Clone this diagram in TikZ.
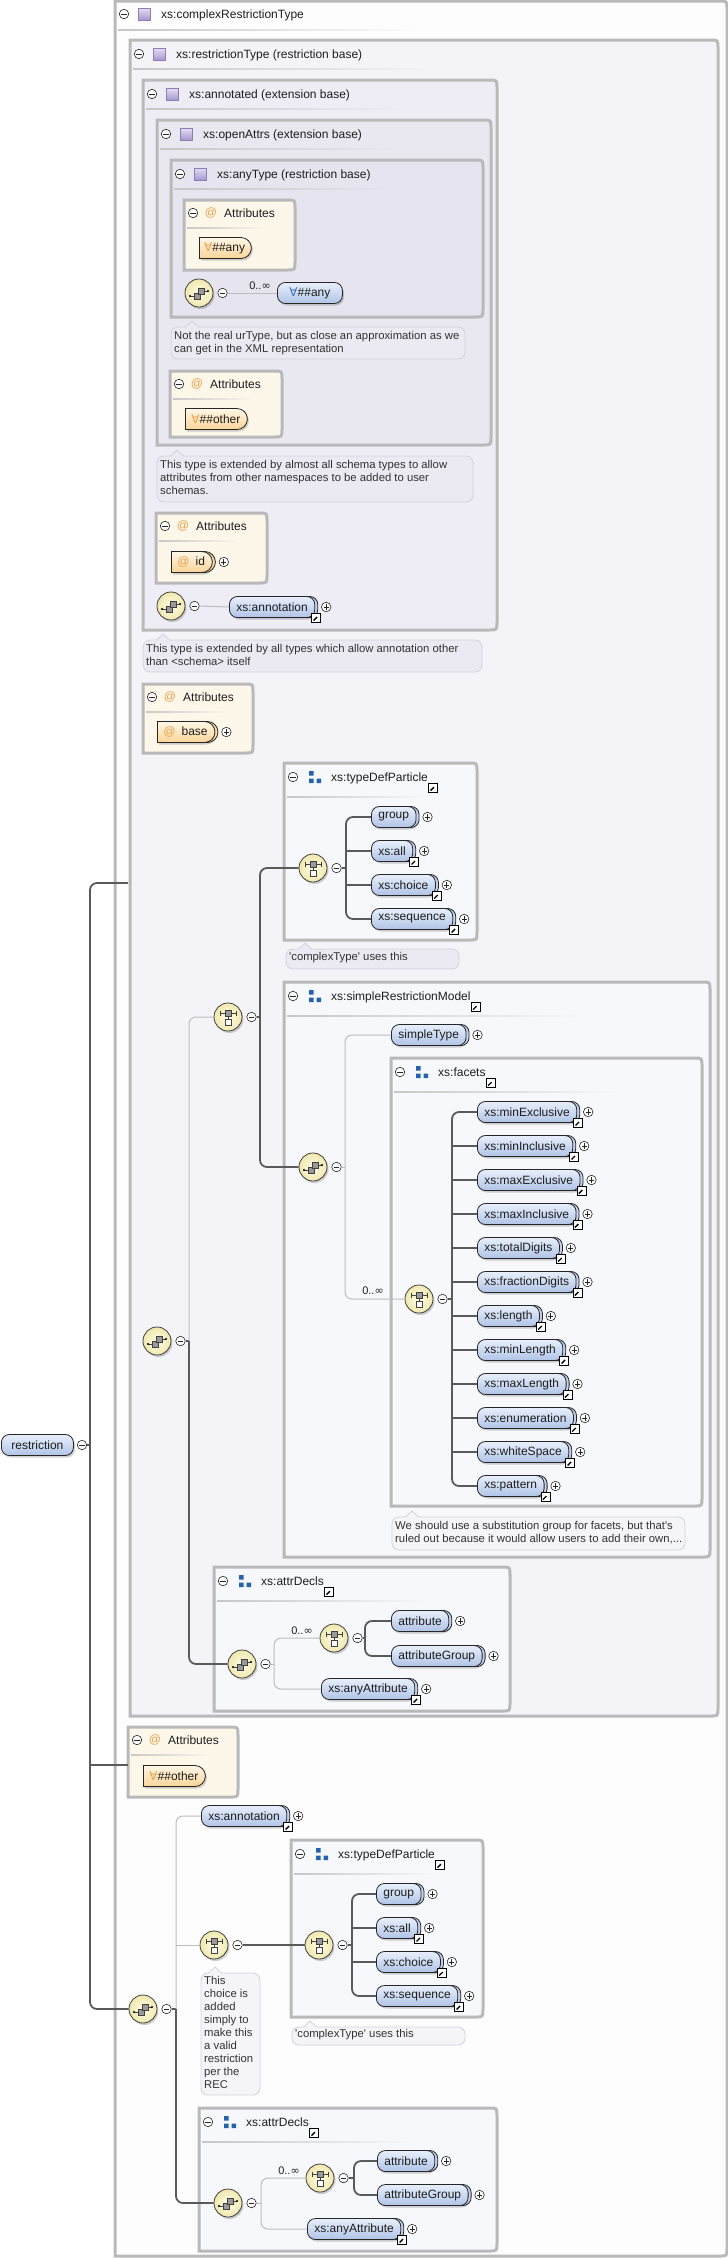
\documentclass[tikz,border=0pt]{standalone}
\usepackage{fontspec}
\setmainfont{Liberation Sans}
\newfontfamily\djv{DejaVu Sans}
\usetikzlibrary{shapes.misc,shadows}

\definecolor{boxgray}{HTML}{B9B9B9}
\definecolor{outerfill}{HTML}{FDFDFE}
\definecolor{rtfill}{HTML}{F4F3F8}
\definecolor{annfill}{HTML}{EEECF4}
\definecolor{oafill}{HTML}{E9E7F0}
\definecolor{atfill}{HTML}{E6E4EE}
\definecolor{grpfill}{HTML}{F7F8FC}
\definecolor{attfill}{HTML}{FDF7EA}
\definecolor{eltop}{HTML}{E8EFFB}
\definecolor{elbot}{HTML}{B0C4E6}
\definecolor{attop}{HTML}{FFF7E8}
\definecolor{atbot}{HTML}{FAD497}
\definecolor{orangeat}{HTML}{E9A04A}
\definecolor{wildblue}{HTML}{3C6FC0}
\definecolor{grpblue}{HTML}{2462B0}
\definecolor{notefill}{HTML}{EBE9F1}
\definecolor{notewhite}{HTML}{F5F5F7}
\definecolor{noteline}{HTML}{D3D1DB}
\definecolor{connc}{HTML}{5A5A5A}
\definecolor{optc}{HTML}{BDBDBD}
\definecolor{compin}{HTML}{FFFCE6}
\definecolor{compout}{HTML}{F0E8AE}
\definecolor{ctA}{HTML}{E4DEF2}
\definecolor{ctB}{HTML}{A597CF}
\definecolor{ctline}{HTML}{8C7FB6}
\definecolor{txt}{HTML}{1E1E1E}

\tikzset{
 boxline/.style={draw=boxgray, line width=3pt},
 shad/.style={drop shadow={shadow xshift=1.5pt, shadow yshift=-2pt, opacity=0.3, fill=black!60}},
 elem/.style={draw=black!85, line width=0.8pt, rounded corners=8pt, top color=eltop, bottom color=elbot,
   minimum height=21pt, inner xsep=7pt, inner ysep=0pt, font=\fontsize{12}{14}\selectfont, text=txt, shad},
 kids/.style={general shadow={shadow xshift=3pt, shadow yshift=0pt, fill=elbot!70!eltop, draw=black!85, line width=0.8pt}},
 attr/.style={rounded rectangle, rounded rectangle west arc=none, draw=black!85, line width=0.8pt,
   top color=attop, bottom color=atbot, minimum height=21pt, inner xsep=6pt, inner ysep=0pt,
   font=\fontsize{12}{14}\selectfont, text=txt, shad},
 akids/.style={general shadow={shadow xshift=3pt, shadow yshift=0pt, fill=atbot!80!attop, draw=black!85, line width=0.8pt}},
 comp/.style={circle, draw=black!75, line width=0.8pt, minimum size=28pt, inner sep=0pt,
   inner color=compin, outer color=compout, shad},
 seqc/.style={comp, path picture={\begin{scope}[shift={(path picture bounding box.center)}]
   \draw[line width=0.7pt] (-9,3) -- (-5,3) (5,-2) -- (9,-2);
   \fill (-9,3) circle (1.2) (9,-2) circle (1.2);
   \draw[fill=black!40, line width=0.6pt] (-5,0) rectangle (1,6);
   \draw[fill=black!40, line width=0.6pt] (-1,-5) rectangle (5,1);
   \end{scope}}},
 chc/.style={comp, path picture={\begin{scope}[shift={(path picture bounding box.center)}]
   \draw[line width=0.7pt] (-8,-4) -- (8,-4) (-8,-6.5) -- (-8,-1.5) (8,-6.5) -- (8,-1.5) (0,-1) -- (0,2);
   \draw[fill=black!40, line width=0.6pt] (-3,-7) rectangle (3,-1);
   \draw[fill=white, line width=0.6pt] (-3,2) rectangle (3,8);
   \end{scope}}},
 pm/.style={circle, draw=black!85, fill=white, line width=0.6pt, minimum size=9.5pt, inner sep=0pt},
 pmm/.style={pm, path picture={\draw[line width=0.7pt] ([xshift=-2.6pt]path picture bounding box.center) -- ([xshift=2.6pt]path picture bounding box.center);}},
 pmp/.style={pm, path picture={\draw[line width=0.7pt] ([xshift=-2.6pt]path picture bounding box.center) -- ([xshift=2.6pt]path picture bounding box.center) ([yshift=-2.6pt]path picture bounding box.center) -- ([yshift=2.6pt]path picture bounding box.center);}},
 link/.style={rectangle, draw=black, fill=white, line width=0.7pt, minimum size=9pt, inner sep=0pt,
   path picture={\begin{scope}[shift={(path picture bounding box.center)}]
   \draw[line width=1.3pt] (-2.6,2.6) -- (1,-1);
   \fill (2.9,-2.9) -- (-0.8,-2.9) -- (2.9,0.8) -- cycle;
   \end{scope}}},
 cticon/.style={rectangle, draw=ctline, line width=0.6pt, top color=ctA, bottom color=ctB, minimum size=12pt, inner sep=0pt},
 grpicon/.style={rectangle, minimum size=13pt, inner sep=0pt, path picture={\begin{scope}[shift={(path picture bounding box.center)}]
   \fill[grpblue] (-6,-6) rectangle (-1.5,-1.5) (-6,1.5) rectangle (-1.5,6) (1.5,1.5) rectangle (6,6);
   \end{scope}}},
 htext/.style={anchor=base west, inner sep=0pt, font=\fontsize{12}{14}\selectfont, text=txt},
 atsign/.style={inner sep=0pt, font=\fontsize{12}{14}\selectfont, text=orangeat},
 ntext/.style={anchor=north west, inner sep=0pt, align=left, font=\fontsize{11.3}{13}\selectfont, text=black!80},
 card/.style={inner sep=0pt, font=\fontsize{11}{13}\selectfont, text=txt},
 conn/.style={draw=connc, line width=1.8pt, rounded corners=7pt},
 opt/.style={draw=optc, line width=1pt, rounded corners=7pt},
}

\newcommand\boxshape[5]{\path[#5] (#1,#2) -- ({#3-8},#2) .. controls (#3,#2) .. (#3,{#2+8}) -- (#3,{#4-8}) .. controls (#3,#4) .. ({#3-8},#4) -- (#1,#4) -- cycle;}
\newcommand\sepline[5]{\shade[left color=black!22, right color=#5] ({#1+3},{#2+#4}) rectangle ({#1+3+min(0.72*(#3-#1),300)},{#2+#4+1.6});}
\newcommand\cttitle[4]{%
 \node[pmm] (#1-m) at ({#2+9},{#3+14}) {};
 \node[cticon] (#1-i) at ({#2+29},{#3+14}) {};
 \node[htext] (#1-t) at ({#2+46},{#3+18}) {#4};}
\newcommand\grtitle[4]{%
 \node[pmm] (#1-m) at ({#2+9},{#3+14}) {};
 \node[grpicon] (#1-i) at ({#2+31},{#3+14}) {};
 \node[htext] (#1-t) at ({#2+47},{#3+18}) {#4};
 \node[link] (#1-k) at ([shift={(5,7)}]#1-t.base east) {};}
\newcommand\attitle[3]{%
 \node[pmm] (#1-m) at ({#2+9},{#3+13}) {};
 \node[atsign] (#1-a) at ({#2+27},{#3+13}) {@};
 \node[htext] (#1-t) at ({#2+40},{#3+17}) {Attributes};}
\newcommand\notebox[6]{%
 \path[fill=#6, draw=noteline, line width=0.8pt, rounded corners=7pt] (#1,#2) rectangle (#3,#4);
 \fill[#6] ({#5-6.5},{#2+0.8}) -- (#5,{#2-6}) -- ({#5+6.5},{#2+0.8}) -- cycle;
 \draw[noteline, line width=0.8pt] ({#5-6.5},#2) -- (#5,{#2-6}) -- ({#5+6.5},#2);}
\newcommand\elk[4]{%
 \node[elem,kids,anchor=west] (#1) at (#2,{#3}) {#4};
 \node[pmp] (#1-p) at ([xshift=11pt]#1.east) {};
 \node[link] (#1-k) at ([xshift=1pt]#1.south east) {};}
\newcommand\elp[4]{%
 \node[elem,kids,anchor=west] (#1) at (#2,{#3}) {#4};
 \node[pmp] (#1-p) at ([xshift=11pt]#1.east) {};}
\newcommand\seqn[3]{\node[seqc] (#1) at (#2,#3) {}; \node[pmm] (#1-m) at ({#2+23.5},#3) {};}
\newcommand\chn[3]{\node[chc] (#1) at (#2,#3) {}; \node[pmm] (#1-m) at ({#2+23.5},#3) {};}

\begin{document}
\begin{tikzpicture}[x=1pt,y=-1pt]
\useasboundingbox (0,0) rectangle (728,2259);
\fill[white] (0,0) rectangle (728,2259);

% ---------- containers ----------
\boxshape{115}{1}{727}{2256}{boxline,fill=outerfill}
\sepline{115}{1}{727}{28}{outerfill}
\cttitle{cr}{115}{0}{xs:complexRestrictionType}

\boxshape{130}{40}{718}{1716}{boxline,fill=rtfill}
\sepline{130}{40}{718}{28}{rtfill}
\cttitle{rt}{130}{40}{xs:restrictionType (restriction base)}

\boxshape{143}{80}{497}{630}{boxline,fill=annfill}
\sepline{143}{80}{497}{28}{annfill}
\cttitle{an}{143}{80}{xs:annotated (extension base)}

\boxshape{157}{120}{491}{445}{boxline,fill=oafill}
\sepline{157}{120}{491}{28}{oafill}
\cttitle{oa}{157}{120}{xs:openAttrs (extension base)}

\boxshape{171}{160}{483}{317}{boxline,fill=atfill}
\sepline{171}{160}{483}{28}{atfill}
\cttitle{ay}{171}{160}{xs:anyType (restriction base)}

% Attributes boxes
\boxshape{184}{200}{295}{270}{boxline,fill=attfill}
\sepline{184}{200}{295}{27}{attfill}
\attitle{A1}{184}{200}
\boxshape{170}{371}{282}{437}{boxline,fill=attfill}
\sepline{170}{371}{282}{27}{attfill}
\attitle{A2}{170}{371}
\boxshape{156}{513}{267}{583}{boxline,fill=attfill}
\sepline{156}{513}{267}{27}{attfill}
\attitle{A3}{156}{513}
\boxshape{143}{684}{253}{753}{boxline,fill=attfill}
\sepline{143}{684}{253}{27}{attfill}
\attitle{A4}{143}{684}
\boxshape{128}{1727}{238}{1797}{boxline,fill=attfill}
\sepline{128}{1727}{238}{27}{attfill}
\attitle{A5}{128}{1727}

% group boxes
\boxshape{284}{763}{477}{940}{boxline,fill=grpfill}
\sepline{284}{763}{477}{33}{grpfill}
\grtitle{tdA}{284}{763}{xs:typeDefParticle}

\boxshape{284}{982}{710}{1557}{boxline,fill=grpfill}
\sepline{284}{982}{710}{33}{grpfill}
\grtitle{srm}{284}{982}{xs:simpleRestrictionModel}

\boxshape{391}{1058}{702}{1506}{boxline,fill=grpfill}
\sepline{391}{1058}{702}{33}{grpfill}
\grtitle{fac}{391}{1058}{xs:facets}

\boxshape{214}{1567}{510}{1711}{boxline,fill=grpfill}
\sepline{214}{1567}{510}{33}{grpfill}
\grtitle{adA}{214}{1567}{xs:attrDecls}

\boxshape{291}{1840}{483}{2017}{boxline,fill=grpfill}
\sepline{291}{1840}{483}{33}{grpfill}
\grtitle{tdB}{291}{1840}{xs:typeDefParticle}

\boxshape{199}{2108}{497}{2251}{boxline,fill=grpfill}
\sepline{199}{2108}{497}{33}{grpfill}
\grtitle{adB}{199}{2108}{xs:attrDecls}

% ---------- notes ----------
\notebox{171}{327}{465}{359}{192}{notefill}
\node[ntext] (n1) at (174,331) {Not the real urType, but as close an approximation as we\\can get in the XML representation};
\notebox{157}{456}{473}{502}{177}{notefill}
\node[ntext] (n2) at (160,460) {This type is extended by almost all schema types to allow\\attributes from other namespaces to be added to user\\schemas.};
\notebox{143}{640}{482}{672}{163}{notefill}
\node[ntext] (n3) at (146,644) {This type is extended by all types which allow annotation other\\than <schema> itself};
\notebox{286}{949}{459}{969}{305}{notefill}
\node[ntext] (n4) at (289,952) {\textquotesingle complexType\textquotesingle{} uses this};
\notebox{392}{1517}{685}{1550}{412}{notewhite}
\node[ntext] (n5) at (395,1521) {We should use a substitution group for facets, but that\textquotesingle s\\ruled out because it would allow users to add their own,...};
\notebox{292}{2027}{465}{2045}{310}{notewhite}
\node[ntext] (n6) at (295,2029) {\textquotesingle complexType\textquotesingle{} uses this};
\notebox{201}{1973}{260}{2095}{215}{notewhite}
\node[ntext] (n7) at (204,1976) {This\\choice is\\added\\simply to\\make this\\a valid\\restriction\\per the\\REC};

% ---------- anyType content ----------
\node[attr,anchor=west,minimum width=64pt] (aany) at (199,248) {{\djv\color{orangeat}∀}\#\#any};
\seqn{s1}{199}{293}
\node[elem,anchor=west,minimum width=65pt] (wany) at (277,293) {{\djv\color{wildblue}∀}\#\#any};
\node[card] (k1) at (260,286) {0..{\djv ∞}};
\node[attr,anchor=west,minimum width=74pt] (aoth) at (185,419) {{\djv\color{orangeat}∀}\#\#other};
\node[attr,akids,anchor=west,minimum width=53pt] (aid) at (171,562) {{\color{orangeat}@}\enspace id};
\node[pmp] (aid-p) at ([xshift=11pt]aid.east) {};
\seqn{s2}{171}{606}
\elk{ann1}{229}{607}{xs:annotation}
\node[attr,akids,anchor=west,minimum width=56pt] (abase) at (157,732) {{\color{orangeat}@}\enspace base};
\node[pmp] (abase-p) at ([xshift=11pt]abase.east) {};

% ---------- typeDefParticle (1) ----------
\chn{c1}{313}{868}
\elp{g1}{371}{817}{group}
\elk{a1}{371}{851}{xs:all}
\elk{h1}{371}{885}{xs:choice}
\elk{q1}{371}{919}{xs:sequence}

% ---------- main choice / simpleRestrictionModel ----------
\chn{cm}{228}{1017}
\elp{st}{391}{1035}{simpleType}
\seqn{sF}{313}{1167}
\chn{cF}{419}{1299}
\node[card] (k2) at (373,1291) {0..{\djv ∞}};
\foreach \t [count=\i] in {minExclusive,minInclusive,maxExclusive,maxInclusive,totalDigits,fractionDigits,length,minLength,maxLength,enumeration,whiteSpace,pattern}{\elk{f\i}{477}{1112+34*(\i-1)}{xs:\t}}

\seqn{sM}{157}{1341}

% ---------- attrDecls (1) ----------
\seqn{sA}{242}{1664}
\chn{cA}{334}{1638}
\node[card] (k3) at (302,1631) {0..{\djv ∞}};
\elp{at1}{391}{1621}{attribute}
\elp{ag1}{391}{1656}{attributeGroup}
\elk{aa1}{321}{1689}{xs:anyAttribute}

% ---------- restriction + bottom part ----------
\node[attr,anchor=west,minimum width=74pt] (aoth2) at (143,1776) {{\djv\color{orangeat}∀}\#\#other};
\node[elem,anchor=west,minimum width=72pt] (r) at (1,1445) {restriction};
\node[pmm] (r-m) at (82,1445) {};
\elk{ann2}{201}{1816}{xs:annotation}
\chn{c2}{214}{1945}
\chn{c3}{319}{1945}
\elp{g2}{376}{1894}{group}
\elk{a2}{376}{1928}{xs:all}
\elk{h2}{376}{1962}{xs:choice}
\elk{q2}{376}{1996}{xs:sequence}
\seqn{s3}{143}{2009}
\seqn{sD}{228}{2203}
\chn{cD}{320}{2178}
\node[card] (k4) at (289,2171) {0..{\djv ∞}};
\elp{at2}{377}{2161}{attribute}
\elp{ag2}{377}{2195}{attributeGroup}
\elk{aa2}{307}{2229}{xs:anyAttribute}

% ---------- connectors ----------
\draw[opt] (s1-m.east) -- (wany.west);
\draw[opt] (s2-m.east) -- (ann1.west);

\coordinate (br1) at (346,868);
\draw[conn] (c1-m.east) -- (br1);
\draw[conn] (g1.west) -| (br1) |- (q1.west);
\draw[conn] (br1 |- a1.west) -- (a1.west);
\draw[conn] (br1 |- h1.west) -- (h1.west);

\coordinate (br0) at (260,1017);
\draw[conn] (cm-m.east) -- (br0);
\draw[conn] (c1.west) -| (br0) |- (sF.west);

\coordinate (br2) at (345,1167);
\draw[opt] (sF-m.east) -- (br2);
\draw[opt] (st.west) -| (br2) |- (cF.west);

\coordinate (br3) at (452,1299);
\draw[conn] (cF-m.east) -- (br3);
\draw[conn] (f1.west) -| (br3) |- (f12.west);
\foreach \i in {2,...,11}{\draw[conn] (br3 |- f\i.west) -- (f\i.west);}

\coordinate (j1) at (189,1341);
\draw[conn] (sM-m.east) -- (j1);
\draw[opt] (cm.west) -| (j1);
\draw[conn] (j1) |- (sA.west);

\coordinate (br4) at (274,1664);
\draw[opt] (sA-m.east) -- (br4);
\draw[opt] (cA.west) -| (br4) |- (aa1.west);
\coordinate (br5) at (365,1638);
\draw[conn] (cA-m.east) -- (br5);
\draw[conn] (at1.west) -| (br5) |- (ag1.west);

\coordinate (rtIn) at (128,883);
\coordinate (ab5) at (128,1765);
\coordinate (trunk) at (90,1445);
\draw[conn] (rtIn) -| (trunk) |- (s3.west);
\draw[conn] (r-m.east) -- (trunk);
\draw[conn] (trunk |- ab5) -- (ab5);

\coordinate (br7) at (176,2009);
\draw[conn] (s3-m.east) -- (br7);
\draw[opt] (ann2.west) -| (br7);
\draw[opt] (br7 |- c2.west) -- (c2.west);
\draw[conn] (br7) |- (sD.west);
\draw[conn] (c2-m.east) -- (c3.west);
\coordinate (br6) at (352,1945);
\draw[conn] (c3-m.east) -- (br6);
\draw[conn] (g2.west) -| (br6) |- (q2.west);
\draw[conn] (br6 |- a2.west) -- (a2.west);
\draw[conn] (br6 |- h2.west) -- (h2.west);

\coordinate (br8) at (261,2203);
\draw[opt] (sD-m.east) -- (br8);
\draw[opt] (cD.west) -| (br8) |- (aa2.west);
\coordinate (br9) at (354,2178);
\draw[conn] (cD-m.east) -- (br9);
\draw[conn] (at2.west) -| (br9) |- (ag2.west);
\end{tikzpicture}
\end{document}
